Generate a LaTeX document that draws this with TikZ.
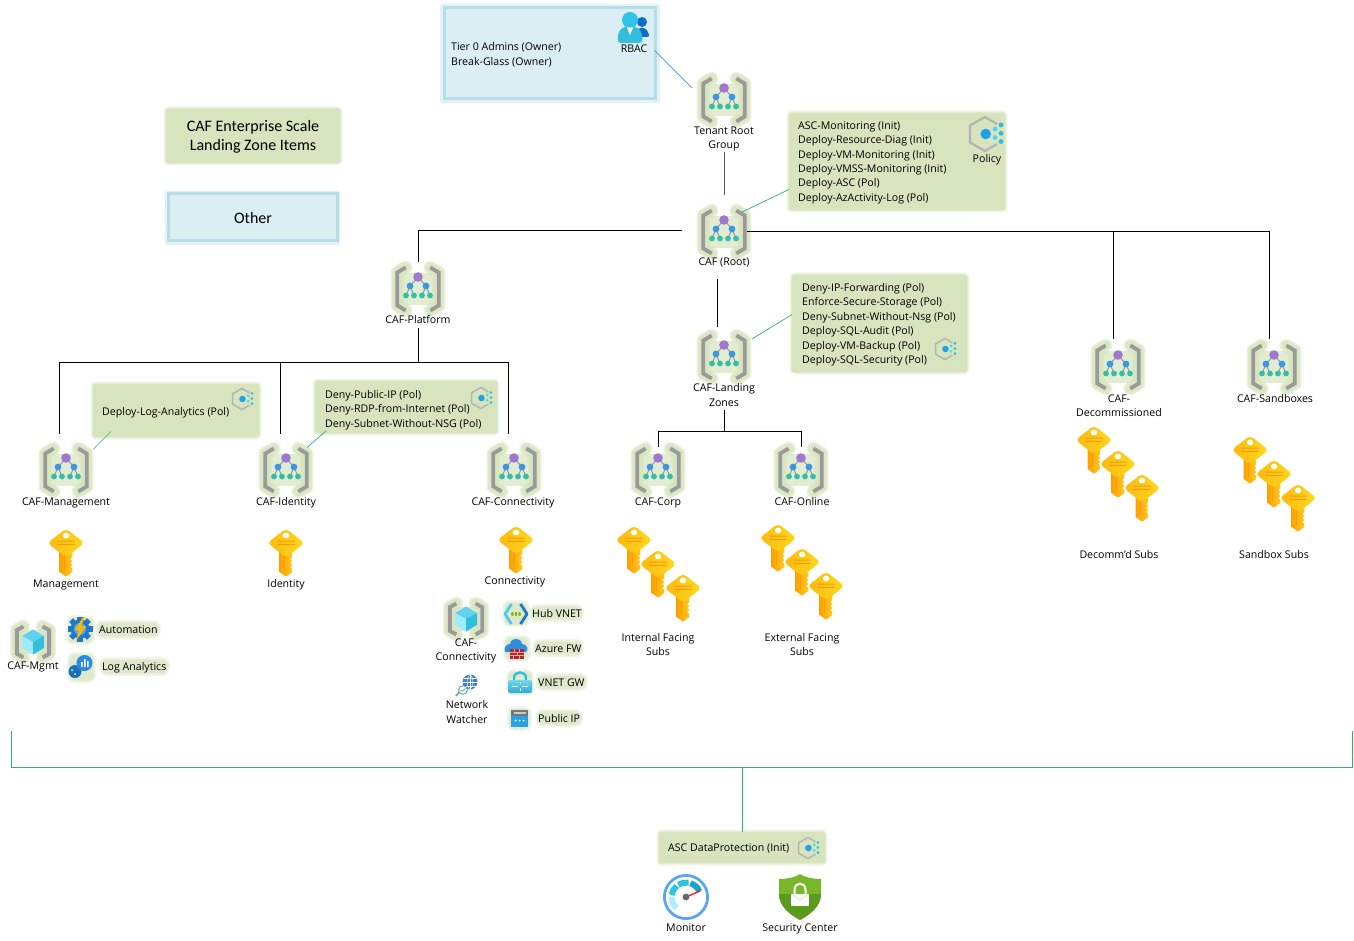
\documentclass[tikz,border=0pt]{standalone}
\usepackage{fontspec}
\setmainfont{Open Sans}
\newfontfamily\legendfont{Carlito}
\usetikzlibrary{calc}
\definecolor{glowg}{HTML}{D7E4BD}
\definecolor{blueb}{HTML}{DAEEF3}
\definecolor{blueg}{HTML}{B7DDE8}
\definecolor{linkg}{HTML}{2FB36A}
\definecolor{linkb}{HTML}{3A9BD5}
\definecolor{brk}{HTML}{9A9A9A}
\newcommand{\defc}[1]{\definecolor{h#1}{HTML}{#1}}
\defc{A078D0}\defc{3A97E8}\defc{32BFA8}\defc{5ED2EE}\defc{9CEBFF}\defc{32BEDD}\defc{FFA000}\defc{FFC81E}\defc{F59A0C}\defc{FDB813}\defc{FFD91A}\defc{B4B4B4}\defc{1EA3E8}\defc{50D5F5}\defc{30BCE0}\defc{0F6FC8}\defc{32C4E6}\defc{1F78C8}\defc{62A8E8}\defc{FFB900}\defc{1C6FBF}\defc{2A8BE0}\defc{50C8F0}\defc{1E78C8}\defc{7FBA00}\defc{2D8FE0}\defc{B0282C}\defc{E8A0A0}\defc{2CC0E0}\defc{70D8F0}\defc{2FA8D8}\defc{29A3DD}\defc{77777A}\defc{C8C8C8}\defc{3A7FD0}\defc{6AA0A0}\defc{5AB0D8}\defc{5AA5EF}\defc{B0ECFF}\defc{2EC4E0}\defc{1D9FD0}\defc{E03040}\defc{666666}\defc{76B82A}\defc{5A9A1C}\defc{D0D0D0}
\newcommand{\softglow}[4]{%
  \fill[glowg,opacity=.35,rounded corners=5pt] (#1-2.5,#2-2.5) rectangle (#3+2.5,#4+2.5);
  \fill[glowg,opacity=.5,rounded corners=3pt] (#1-1,#2-1) rectangle (#3+1,#4+1);}
\newcommand{\textglow}[4]{%
  \fill[glowg,opacity=.3,rounded corners=8pt] (#1-3,#2-3) rectangle (#3+3,#4+3);
  \fill[glowg,opacity=.4,rounded corners=6pt] (#1-1.5,#2-1.5) rectangle (#3+1.5,#4+1.5);
  \fill[glowg,opacity=.5,rounded corners=5pt] (#1,#2) rectangle (#3,#4);}
\newcommand{\bracketglow}{%
  \foreach \w in {13.5,11,8.5}{\draw[glowg,opacity=.5,line width=\w pt,line cap=round,line join=round]
    (-12.3,-21.5)--(-20.7,-16.5)--(-20.7,16.5)--(-12.3,21.5) (12.3,-21.5)--(20.7,-16.5)--(20.7,16.5)--(12.3,21.5);}
  \fill[glowg,opacity=.7] (-18,-16) rectangle (18,16);}
\newcommand{\bracketdraw}{%
  \draw[brk,line width=3.8pt]
    (-12.3,-21.5)--(-20.7,-16.5)--(-20.7,16.5)--(-12.3,21.5) (12.3,-21.5)--(20.7,-16.5)--(20.7,16.5)--(12.3,21.5);}
\newcommand{\policybody}[1]{%
    \draw[hB4B4B4,line width=#1,line join=miter] (12,-10)--(0,-17)--(-15,-8.5)--(-15,8.5)--(0,17)--(12,10);
    \fill[h1EA3E8] (0.7,0) circle (5.3);
    \fill[h50D5F5] (10,-5) circle (2.4) (10,3.5) circle (2.4);
    \fill[h30BCE0] (16,-9) circle (2.4) (16,-.7) circle (2.4) (16,7.5) circle (2.4);}
\newcommand{\tstart}{\vphantom{(Ag}}
\newcommand{\tend}{\vphantom{(gy}}
\tikzset{
  cn/.style={black,line width=.85pt},
  lnkg/.style={linkg,line width=.7pt},
  lnkb/.style={linkb,line width=.7pt},
  lbl/.style={font=\fontsize{10.6}{14.3}\selectfont,align=center,inner sep=0pt,text=black,yshift=-1.7pt,
    execute at begin node=\tstart,execute at end node=\tend},
  ltxt/.style={font=\fontsize{10.6}{14.4}\selectfont,align=left,inner sep=0pt,anchor=west,text=black,yshift=-1.7pt,
    execute at begin node=\tstart,execute at end node=\tend},
  lgd/.style={font=\legendfont\fontsize{16}{19}\selectfont,align=center,inner sep=0pt,yshift=-.8pt},
  mgbox/.style={minimum width=46pt,minimum height=47pt,inner sep=0pt,outer sep=0pt},
  gbox/.style={fill=glowg,inner sep=0pt,outer sep=0pt,rounded corners=2pt},
  bbox/.style={fill=blueb,draw=blueg,line width=3pt,inner sep=0pt,outer sep=0pt},
  mgicon/.pic={
    \bracketglow
    \draw[brk,line width=1pt] (0,-12)--(-8,-3)--(-12,6.5) (-8,-3)--(-4,6.5) (0,-12)--(8,-3)--(4,6.5) (8,-3)--(12,6.5);
    \bracketdraw
    \fill[hA078D0] (0,-12) circle (4.8);
    \fill[h3A97E8] (-8,-3) circle (3.4) (8,-3) circle (3.4);
    \fill[h32BFA8] (-12,6.5) circle (2.9) (-4,6.5) circle (2.9) (4,6.5) circle (2.9) (12,6.5) circle (2.9);
  },
  cubeicon/.pic={
    \begin{scope}[xscale=.78,yscale=.72]
    \bracketglow
    \bracketdraw
    \end{scope}
    \fill[h5ED2EE] (0,-12.5)--(11,-6)--(0,0)--(-11,-6)--cycle;
    \fill[h9CEBFF] (-11,-6)--(0,0)--(0,12.5)--(-11,6)--cycle;
    \fill[h32BEDD] (11,-6)--(0,0)--(0,12.5)--(11,6)--cycle;
  },
  keyicon/.pic={
    \shade[left color=hFFA000,right color=hFFC81E] (-6.3,-5)--(6.3,-5)--(6.3,4)--(4.5,6)--(6.3,8)--(4.5,10)--(6.3,12)--(4.5,14)--(6.3,16)--(6.3,19)--(1,23)--(-1,23)--(-6.3,19)--cycle;
    \fill[hF59A0C] (-2.5,-4) rectangle (-1.5,17);
    \shade[left color=hFDB813,right color=hFFD91A,rounded corners=4pt] (0,-24.5)--(18.5,-10)--(0,4.5)--(-18.5,-10)--cycle;
    \fill[white] (0,-17.5) ellipse (3.3 and 2.8);
    \fill[hF59A0C] (-8.7,-12.3) rectangle (8.7,-11.3) (-8.7,-9.2) rectangle (8.7,-8.2);
  },
  policyicon/.pic={\policybody{2.2pt}},
  policysmall/.pic={\begin{scope}[scale=.62]\policybody{1.5pt}\end{scope}},
  rbacicon/.pic={
    \fill[h0F6FC8] (12,-3) circle (5);
    \fill[h0F6FC8,rounded corners=3pt] (5,12)--(8,3)--(16,3)--(20,12)--cycle;
    \fill[h32C4E6] (0,-5) circle (8);
    \fill[h32BEDD,rounded corners=4pt] (-13,18)--(-11,5)--(-4,1)--(4,1)--(11,5)--(13,18)--cycle;
    \fill[white] (-3,2.5)--(3,2.5)--(0,10)--cycle;
  },
  gearicon/.pic={
    \foreach \a in {0,45,...,315}{\fill[h1F78C8,rotate=\a] (-2.6,-12.5) rectangle (2.6,12.5);}
    \fill[h1F78C8] (0,0) circle (9.5);
    \fill[h62A8E8] (0,0) circle (6);
    \fill[hFFB900] (3,-12)--(-5,1)--(-1,1)--(-4,12)--(6,-3)--(1,-3)--(5,-12)--cycle;
  },
  laicon/.pic={
    \fill[h1C6FBF] (-5,5.5) circle (6.5);
    \fill[h2A8BE0] (4.5,-3) circle (8);
    \fill[white] (1,-4) rectangle (2.6,1) (4,-7) rectangle (5.6,1) (7,-5) rectangle (8.6,1);
    \fill[white] (-8,4) circle (1) (-5,8) circle (1);
  },
  vneticon/.pic={
    \draw[h50C8F0,line width=2.8pt,line join=round] (-4.5,-10)--(-11,0)--(-4.5,10);
    \draw[h1E78C8,line width=2.8pt,line join=round] (4.5,-10)--(11,0)--(4.5,10);
    \fill[h7FBA00] (-3.6,0) ellipse (1.3 and 2) (0,0) ellipse (1.3 and 2) (3.6,0) ellipse (1.3 and 2);
  },
  fwicon/.pic={
    \fill[h2D8FE0] (-11,4) .. controls (-13,-3) and (-7,-4) .. (-6,-4) .. controls (-5,-11) and (5,-11) .. (6,-4) .. controls (11,-4) and (13,2) .. (10,4)--cycle;
    \fill[hB0282C] (-6.5,1) rectangle (8,11);
    \draw[hE8A0A0,line width=.6pt] (-6.5,4) -- (8,4) (-6.5,7.5) -- (8,7.5) (-2,1)--(-2,4) (3,1)--(3,4) (1,4)--(1,7.5) (-3,7.5)--(-3,11) (3,7.5)--(3,11);
  },
  gwicon/.pic={
    \draw[h2CC0E0,line width=2.4pt] (-6,0) -- (-6,-4) .. controls (-6,-11.5) and (6,-11.5) .. (6,-4) -- (6,0);
    \shade[top color=h70D8F0,bottom color=h2FA8D8,rounded corners=1.5pt] (-12,-2) rectangle (12,11);
    \draw[white,line width=.8pt] (-8,4)--(-2,4) (2,4)--(8,4) (0,0)--(0,2) (0,6)--(0,9);
  },
  ipicon/.pic={
    \fill[h29A3DD] (-8.5,-8.5) rectangle (8.5,8.5);
    \fill[h77777A] (-8.5,-8.5) rectangle (8.5,-3);
    \fill[hC8C8C8] (-6,-6.5) rectangle (6,-5);
    \fill[white] (-4,2) circle (1) (0,2) circle (1) (4,2) circle (1);
  },
  nwicon/.pic={
    \fill[h3A7FD0] (3,-3) circle (7.5);
    \draw[white,line width=.4pt] (-4.5,-3)--(10.5,-3) (3,-10.5)--(3,4.5) (-3,-7)--(9,-7) (-3,1)--(9,1);
    \draw[white,line width=.4pt] (3,-10.5) .. controls (-1,-7) and (-1,1) .. (3,4.5) .. controls (7,1) and (7,-7) .. (3,-10.5);
    \draw[h6AA0A0,line width=1.6pt] (-7,6)--(-11,11);
    \fill[white] (-4,5) circle (4.6);
    \draw[h5AB0D8,line width=1pt] (-4,5) circle (4.4);
    \draw[h7FBA00,line width=.8pt] (-6.5,5.5)--(-4.5,6)--(-1.5,3.5);
  },
  monicon/.pic={
    \begin{scope}[y=1pt]
    \fill[white] (0,0) circle (22);
    \draw[h5AA5EF,line width=2.8pt] (0,0) circle (21.6);
    \draw[hB0ECFF,line width=6pt] (180:14.5) arc[start angle=180,end angle=230,radius=14.5];
    \draw[h2EC4E0,line width=6pt] (130:14.5) arc[start angle=130,end angle=172,radius=14.5];
    \draw[h2EC4E0,line width=6pt] (80:14.5) arc[start angle=80,end angle=122,radius=14.5];
    \draw[h1D9FD0,line width=6pt] (22:14.5) arc[start angle=22,end angle=72,radius=14.5];
    \draw[hE03040,line width=1.5pt] (0,0)--(14,6);
    \fill[h666666] (0,0) circle (3.4);
    \end{scope}
  },
  shicon/.pic={
    \fill[h76B82A] (0,-23)  .. controls (6,-19) and (14,-18) .. (21,-18) -- (21,-3) .. controls (21,10) and (9,18) .. (0,23) .. controls (-9,18) and (-21,10) .. (-21,-3) -- (-21,-18) .. controls (-14,-18) and (-6,-19) .. (0,-23);
    \fill[h5A9A1C] (21,-3) .. controls (21,10) and (9,18) .. (0,23) .. controls (-9,18) and (-21,10) .. (-21,-3) -- cycle;
    \draw[white,line width=2pt] (-5.5,-3) -- (-5.5,-7) .. controls (-5.5,-15.5) and (5.5,-15.5) .. (5.5,-7) -- (5.5,-3);
    \fill[white] (-9,-3) rectangle (9,9);
    \draw[hD0D0D0,line width=.5pt] (-9,-3)--(0,3)--(9,-3);
  }
}
\begin{document}
\begin{tikzpicture}[x=1pt,y=-1pt]
\useasboundingbox (0,0) rectangle (1354,941);
\fill[white] (0,0) rectangle (1354,941);

% ---- named management group nodes
\node[mgbox] (tenant) at (724,100) {};
\node[mgbox] (root) at (724,232) {};
\node[mgbox] (platform) at (418,289) {};
\node[mgbox] (lz) at (724,357) {};
\node[mgbox] (decomm) at (1118,367) {};
\node[mgbox] (sandbox) at (1274,367) {};
\node[mgbox] (mgmt) at (66,470) {};
\node[mgbox] (ident) at (286,470) {};
\node[mgbox] (conn) at (514,470) {};
\node[mgbox] (corp) at (658,470) {};
\node[mgbox] (online) at (801,470) {};

% ---- junctions
\coordinate (platbus) at (418,362);
\coordinate (lzbus) at (724,431);
\coordinate (asctrunk) at (742,767);

% ---- boxes
\softglow{166}{109}{340}{163}
\node[gbox,minimum width=174pt,minimum height=54pt] (legendg) at (253,136) {};
\node[lgd] at (253,136) {CAF Enterprise Scale\\Landing Zone Items};
\fill[blueg,opacity=.4,rounded corners=2pt] (165,191) rectangle (340,245);
\node[bbox,minimum width=169pt,minimum height=47pt] (legendb) at (252.5,217.5) {};
\node[lgd] at (253,217) {Other};

\fill[blueg,opacity=.4,rounded corners=2pt] (440,4) rectangle (660,103);
\node[bbox,minimum width=211pt,minimum height=91pt] (rbacbox) at (550,53.5) {};
\softglow{789}{113}{1005}{210}
\node[gbox,minimum width=216pt,minimum height=97pt] (polroot) at (897,161.5) {};
\softglow{792}{275}{967}{372}
\node[gbox,minimum width=175pt,minimum height=97pt] (pollz) at (879.5,323.5) {};
\softglow{93}{384}{259}{437}
\node[gbox,minimum width=166pt,minimum height=53pt] (pollog) at (176,410.5) {};
\softglow{315}{381}{497}{433}
\node[gbox,minimum width=182pt,minimum height=52pt] (poldeny) at (406,407) {};
\softglow{659}{832}{825}{863}
\node[gbox,minimum width=166pt,minimum height=31pt] (polasc) at (742,847.5) {};

% ---- icons
\pic at (tenant) {mgicon};
\pic at (root) {mgicon};
\pic at (platform) {mgicon};
\pic at (lz) {mgicon};
\pic at (decomm) {mgicon};
\pic at (sandbox) {mgicon};
\pic at (mgmt) {mgicon};
\pic at (ident) {mgicon};
\pic at (conn) {mgicon};
\pic at (corp) {mgicon};
\pic at (online) {mgicon};

% ---- text of the group nodes
\node[lbl] (tenantL) at (724,137) {Tenant Root\\Group};
\node[lbl] (rootL) at (724,261) {CAF (Root)};
\node[lbl] (platformL) at (418,319) {CAF-Platform};
\node[lbl] (lzL) at (724,394.5) {CAF-Landing\\Zones};
\node[lbl] (decommL) at (1119,405) {CAF-\\Decommissioned};
\node[lbl] (sandboxL) at (1275,398) {CAF-Sandboxes};
\node[lbl] (mgmtL) at (66,501) {CAF-Management};
\node[lbl] (identL) at (286,501) {CAF-Identity};
\node[lbl] (connL) at (513,501) {CAF-Connectivity};
\node[lbl] (corpL) at (658,501) {CAF-Corp};
\node[lbl] (onlineL) at (802,501) {CAF-Online};

% ---- connectors
\draw[cn,gray!70!black] ([yshift=-1pt]tenantL.south) -- ([yshift=13.5pt]root.north);
\draw[cn] ([xshift=-19pt,yshift=1.2pt]root.west) -- ([yshift=1.2pt]root.west -| platform.north) -- ([yshift=3pt]platform.north);
\draw[cn] ([yshift=.7pt]root.east) -- ([xshift=-5pt,yshift=.7pt]root.east -| sandbox.north) -- ([xshift=-5pt,yshift=5pt]sandbox.north);
\draw[cn] ([xshift=-5pt,yshift=.7pt]root.east -| decomm.north) -- ([xshift=-5pt,yshift=5pt]decomm.north);
\draw[cn] ([xshift=-7pt,yshift=-24pt]root.south) -- ([xshift=-7pt,yshift=6.5pt]lz.north);
\draw[cn] ([yshift=-15.5pt]platform.south) -- (platbus);
\draw[cn] ([xshift=-7pt]platbus -| mgmt.north) -- ([xshift=-6pt]platbus -| conn.north);
\draw[cn] ([xshift=-7pt]platbus -| mgmt.north) -- ([xshift=-7pt,yshift=12.5pt]mgmt.north);
\draw[cn] ([xshift=-6pt]platbus -| ident.north) -- ([xshift=-6pt,yshift=12.5pt]ident.north);
\draw[cn] ([xshift=-6pt]platbus -| conn.north) -- ([xshift=-6pt,yshift=12.5pt]conn.north);
\draw[cn] ([yshift=-1pt]lzL.south) -- (lzbus);
\draw[cn] (lzbus -| corp.north) -- (lzbus -| online.north);
\draw[cn] (lzbus -| corp.north) -- (corp.north);
\draw[cn] (lzbus -| online.north) -- ([yshift=-.5pt]online.north);
\draw[lnkb] ([xshift=-1pt,yshift=3pt]rbacbox.east) -- ([xshift=-9pt,yshift=12pt]tenant.west);
\draw[lnkg] ([xshift=-5pt,yshift=-3.5pt]root.north east) -- ([yshift=-28pt]polroot.west);
\draw[lnkg] ([xshift=5pt,yshift=18pt]lz.east) -- ([yshift=9pt]pollz.west);
\draw[lnkg] ([xshift=4pt,yshift=-3pt]mgmt.north east) -- ([xshift=18pt,yshift=-21pt]pollog.west);
\draw[lnkg] ([xshift=-2pt,yshift=-1pt]ident.north east) -- ([xshift=11pt,yshift=-24pt]poldeny.west);
% bottom bracket
\coordinate (bracketL) at (11.5,731);
\coordinate (bracketR) at (1352.5,731);
\draw[lnkg,line width=.85pt] (bracketL) -- (bracketL |- asctrunk) -- (bracketR |- asctrunk) -- (bracketR);
\draw[lnkg,line width=.85pt] (asctrunk) -- (polasc.north);

\pic at (66,553) {keyicon};
\pic at (286,553) {keyicon};
\pic at (516,550) {keyicon};
\pic at (634,550) {keyicon};
\pic at (658,574) {keyicon};
\pic at (683,598) {keyicon};
\pic at (778,548) {keyicon};
\pic at (802,572) {keyicon};
\pic at (826,596) {keyicon};
\pic at (1094,450) {keyicon};
\pic at (1118,474) {keyicon};
\pic at (1142,498) {keyicon};
\pic at (1250,460) {keyicon};
\pic at (1274,484) {keyicon};
\pic at (1298,508) {keyicon};

\pic at (630,25) {rbacicon};
\pic at (985,134) {policyicon};
\pic at (945,349) {policysmall};
\pic at (242,399) {policysmall};
\pic at (481,398) {policysmall};
\pic at (808,848) {policysmall};

% ---- box texts
\node[ltxt] (rbactxt) at (451,53.5) {Tier 0 Admins (Owner)\\Break-Glass (Owner)};
\node[lbl] (rbacL) at (634,48) {RBAC};
\node[ltxt] (poltxt) at (798,161) {ASC-Monitoring (Init)\\Deploy-Resource-Diag (Init)\\Deploy-VM-Monitoring (Init)\\Deploy-VMSS-Monitoring (Init)\\Deploy-ASC (Pol)\\Deploy-AzActivity-Log (Pol)};
\node[lbl] (polL) at (987,158) {Policy};
\node[ltxt] (lztxt) at (802,323) {Deny-IP-Forwarding (Pol)\\Enforce-Secure-Storage (Pol)\\Deny-Subnet-Without-Nsg (Pol)\\Deploy-SQL-Audit (Pol)\\Deploy-VM-Backup (Pol)\\Deploy-SQL-Security (Pol)};
\node[ltxt] (logtxt) at (102,411) {Deploy-Log-Analytics (Pol)};
\node[ltxt] (denytxt) at (325,408.5) {Deny-Public-IP (Pol)\\Deny-RDP-from-Internet (Pol)\\Deny-Subnet-Without-NSG (Pol)};
\node[ltxt] (asctxt) at (668,847) {ASC DataProtection (Init)};

% ---- key labels
\node[lbl] (k1) at (66,583) {Management};
\node[lbl] (k2) at (286,583) {Identity};
\node[lbl] (k3) at (515,580) {Connectivity};
\node[lbl] (k4) at (658,644) {Internal Facing\\Subs};
\node[lbl] (k5) at (802,644) {External Facing\\Subs};
\node[lbl] (k6) at (1119,554) {Decomm’d Subs};
\node[lbl] (k7) at (1274,554) {Sandbox Subs};

% ---- resources, management
\pic at (33,642) {cubeicon};
\node[lbl] (cmgmt) at (33,665) {CAF-Mgmt};
\textglow{69}{618}{92}{642}
\pic at (80,629) {gearicon};
\textglow{98}{623}{158}{636}
\node[ltxt] (auto) at (99,629) {Automation};
\textglow{70}{655}{93}{680}
\pic at (80,666) {laicon};
\textglow{102}{660}{167}{673}
\node[ltxt] (lawk) at (102,666) {Log Analytics};

% ---- resources, connectivity
\pic at (466,619) {cubeicon};
\node[lbl] (cconn) at (466,649.5) {CAF-\\Connectivity};
\pic at (467,685) {nwicon};
\node[lbl] (nw) at (467,711.5) {Network\\Watcher};
\textglow{505}{603}{527}{624}
\pic at (516,614) {vneticon};
\textglow{532}{607}{581}{619}
\node[ltxt] (hub) at (532,613) {Hub VNET};
\textglow{506}{638}{528}{659}
\pic at (516,648) {fwicon};
\textglow{535}{642}{581}{654}
\node[ltxt] (fw) at (535,648) {Azure FW};
\textglow{509}{672}{531}{693}
\pic at (520,682) {gwicon};
\textglow{538}{676}{585}{688}
\node[ltxt] (gw) at (538,682) {VNET GW};
\textglow{510}{709}{529}{728}
\pic at (519.5,718.5) {ipicon};
\textglow{538}{712}{580}{724}
\node[ltxt] (ip) at (538,718) {Public IP};

% ---- bottom
\pic at (686,897) {monicon};
\node[lbl] (mon) at (686,927) {Monitor};
\pic at (800,897) {shicon};
\node[lbl] (sec) at (800,927) {Security Center};
\end{tikzpicture}
\end{document}
